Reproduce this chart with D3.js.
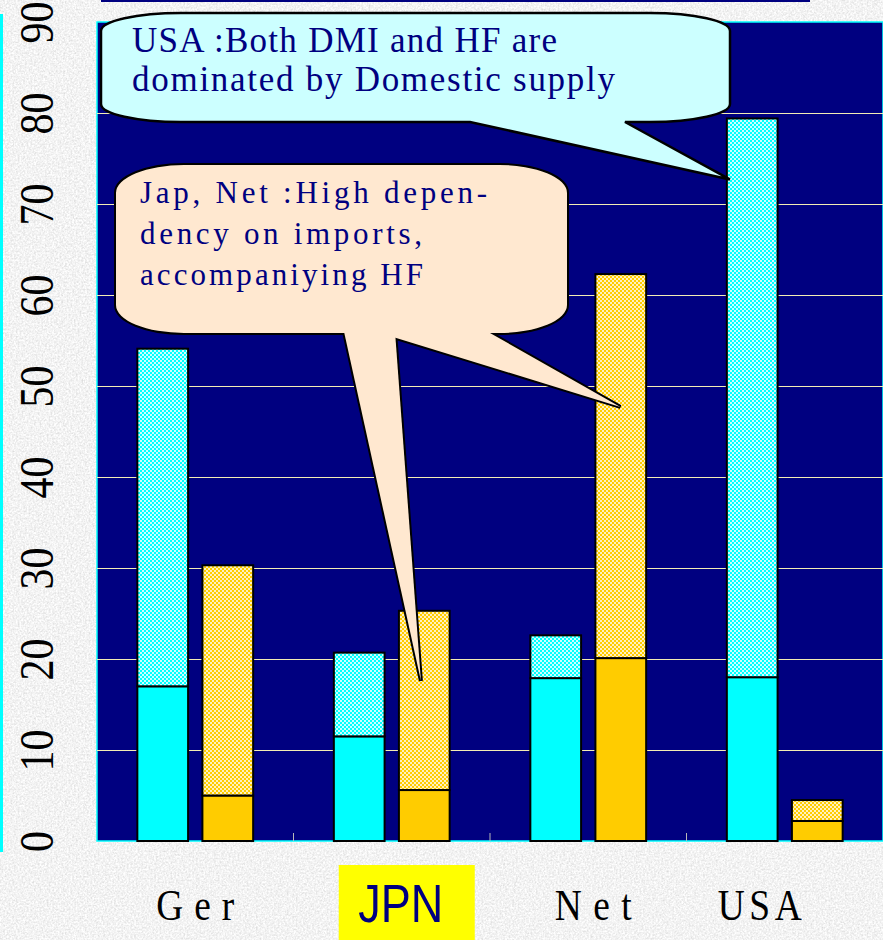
<!DOCTYPE html>
<html>
<head>
<meta charset="utf-8">
<script src="https://cdn.jsdelivr.net/npm/d3@7"></script>
<style>
  body { margin: 0; padding: 0; background: #e4e4e4; }
  svg { display: block; }
</style>
</head>
<body>
<div id="chart"></div>
<script>
// Data
var categories = ["Ger", "JPN", "Net", "USA"];
var dmiDomestic = [17.0, 11.5, 17.9, 18.0];
var dmiImport = [37.1, 9.2, 4.7, 61.4];
var hfDomestic = [5.0, 5.6, 20.1, 2.2];
var hfImport = [25.3, 19.7, 42.2, 2.3];
var yTicks = [0, 10, 20, 30, 40, 50, 60, 70, 80, 90];
var gridTicks = [10, 20, 30, 40, 50, 60, 70, 80];

var noteUSA = ["USA :Both DMI and HF are", "dominated by Domestic supply"];
var noteJapNet = ["Jap, Net :High depen-", "dency on imports,", "accompaniying HF"];

// Placement
var W = 883,
  H = 940,
  pLeft = 97,
  pRight = 883,
  pTop = 22,
  pBottom = 841;

var navy = "#000080";

var svg = d3.select("#chart")
  .append("svg")
  .attr("width", W)
  .attr("height", H);

var defs = svg.append("defs");

// grey speckled backdrop
var noise = defs.append("filter")
  .attr("id", "speckle")
  .attr("x", 0).attr("y", 0).attr("width", "100%").attr("height", "100%");
noise.append("feTurbulence")
  .attr("type", "fractalNoise")
  .attr("baseFrequency", 0.55)
  .attr("numOctaves", 3)
  .attr("seed", 4);
noise.append("feColorMatrix")
  .attr("type", "matrix")
  .attr("values", "0.45 0 0 0 0.67  0.45 0 0 0 0.67  0.45 0 0 0 0.67  0 0 0 0 1");

// checker fills for the import part of the bars
function checker(id, base, dot) {
  var p = defs.append("pattern")
    .attr("id", id)
    .attr("patternUnits", "userSpaceOnUse")
    .attr("width", 4)
    .attr("height", 4);
  p.append("rect").attr("width", 4).attr("height", 4).attr("fill", base);
  p.append("rect").attr("width", 2).attr("height", 2).attr("fill", dot);
  p.append("rect").attr("x", 2).attr("y", 2).attr("width", 2).attr("height", 2).attr("fill", dot);
}
checker("dmiHatch", "#00ffff", "#ccffff");
checker("hfHatch", "#ffcc00", "#fff1c0");

svg.append("rect")
  .attr("width", W)
  .attr("height", H)
  .attr("filter", "url(#speckle)");

// frame bits outside the plot
svg.append("rect")
  .attr("x", 0).attr("y", 14)
  .attr("width", 3).attr("height", 838)
  .attr("fill", "#00ffff");
svg.append("line")
  .attr("x1", 101).attr("x2", 810)
  .attr("y1", 1).attr("y2", 1)
  .attr("stroke", navy)
  .attr("stroke-width", 2);

// Scales
var y = d3.scaleLinear()
  .domain([0, 90])
  .range([pBottom, pTop]);
var x0 = d3.scaleBand()
  .domain(categories)
  .range([pLeft, pRight]);
var x1 = d3.scaleBand()
  .domain(["dmi", "hf"])
  .range([0, x0.bandwidth()])
  .paddingInner(0.22)
  .paddingOuter(0.62);

// plot area
svg.append("rect")
  .attr("x", pLeft)
  .attr("y", pTop)
  .attr("width", pRight - pLeft)
  .attr("height", pBottom - pTop)
  .attr("fill", navy)
  .attr("stroke", "#00ffff")
  .attr("stroke-width", 1.5);

// gridlines
var grid = svg.append("g")
  .attr("transform", "translate(" + pLeft + ",0)")
  .call(d3.axisLeft(y).tickValues(gridTicks).tickSize(-(pRight - pLeft)).tickFormat(""));
grid.select(".domain").remove();
grid.selectAll("line")
  .attr("stroke", "#f3ecb4")
  .attr("stroke-width", 1);

// small category dividers on the base
svg.append("g").selectAll("line")
  .data(categories.slice(1))
  .enter().append("line")
  .attr("x1", function(d) { return x0(d); })
  .attr("x2", function(d) { return x0(d); })
  .attr("y1", pBottom - 8)
  .attr("y2", pBottom)
  .attr("stroke", "#b8b8b8")
  .attr("stroke-width", 1);

// y labels, rotated
var yAxis = svg.append("g")
  .attr("transform", "translate(53,0)")
  .call(d3.axisLeft(y).tickValues(yTicks).tickSize(0).tickPadding(0));
yAxis.select(".domain").remove();
yAxis.selectAll("text")
  .attr("x", 0)
  .attr("dy", 0)
  .attr("text-anchor", "middle")
  .attr("transform", "rotate(-90) scale(1,1.15)")
  .attr("font-family", "Liberation Serif")
  .attr("font-size", 42)
  .attr("fill", "#000");

// BUILD BARS
var rows = categories.map(function(c, i) {
  return { cat: c, dom: dmiDomestic[i], imp: dmiImport[i], hdom: hfDomestic[i], himp: hfImport[i] };
});
var groups = [
  { key: "dmi", stack: d3.stack().keys(["dom", "imp"])(rows), fills: ["#00ffff", "url(#dmiHatch)"] },
  { key: "hf", stack: d3.stack().keys(["hdom", "himp"])(rows), fills: ["#ffcc00", "url(#hfHatch)"] }
];

var bars = svg.append("g");
groups.forEach(function(g) {
  g.stack.forEach(function(layer, li) {
    bars.append("g").selectAll("rect")
      .data(layer)
      .enter().append("rect")
      .attr("x", function(d) { return x0(d.data.cat) + x1(g.key); })
      .attr("y", function(d) { return y(d[1]); })
      .attr("width", x1.bandwidth())
      .attr("height", function(d) { return y(d[0]) - y(d[1]); })
      .attr("fill", g.fills[li])
      .attr("stroke", "#000")
      .attr("stroke-width", 2);
  });
});

// category labels
var labelNudge = [0, 9, 5, -25];
var labelWidth = [78, 85, 77, 84];
var squeeze = 0.85;
var xLab = svg.append("g");
xLab.append("rect")
  .attr("x", x0("JPN") + x0.bandwidth() / 2 - 53)
  .attr("y", 865)
  .attr("width", 136)
  .attr("height", 75)
  .attr("fill", "#ffff00");
xLab.selectAll("text")
  .data(categories)
  .enter().append("text")
  .attr("transform", function(d, i) {
    var cx = x0(d) + x0.bandwidth() / 2 + labelNudge[i];
    return d == "JPN" ? "translate(" + cx + ",922)" : "translate(" + cx + ",920) scale(" + squeeze + ",1)";
  })
  .attr("text-anchor", "middle")
  .attr("font-family", function(d) { return d == "JPN" ? "Liberation Sans" : "Liberation Serif"; })
  .attr("font-size", function(d) { return d == "JPN" ? 54 : 44; })
  .attr("fill", function(d) { return d == "JPN" ? navy : "#000"; })
  .attr("textLength", function(d, i) { return d == "JPN" ? labelWidth[i] : labelWidth[i] / squeeze; })
  .attr("lengthAdjust", function(d) { return d == "JPN" ? "spacingAndGlyphs" : "spacing"; })
  .text(function(d) { return d; });

// CALLOUTS
function boxPath(b, tails) {
  var p = "M" + (b.x0 + b.rx) + "," + b.y0 +
    "L" + (b.x1 - b.rx) + "," + b.y0 +
    "A" + b.rx + "," + b.ry + " 0 0 1 " + b.x1 + "," + (b.y0 + b.ry) +
    "L" + b.x1 + "," + (b.y1 - b.ry) +
    "A" + b.rx + "," + b.ry + " 0 0 1 " + (b.x1 - b.rx) + "," + b.y1;
  tails.forEach(function(t) {
    p += "L" + t.c + "," + b.y1 + "L" + t.tip[0] + "," + t.tip[1] + "L" + t.a + "," + b.y1;
  });
  p += "L" + (b.x0 + b.rx) + "," + b.y1 +
    "A" + b.rx + "," + b.ry + " 0 0 1 " + b.x0 + "," + (b.y1 - b.ry) +
    "L" + b.x0 + "," + (b.y0 + b.ry) +
    "A" + b.rx + "," + b.ry + " 0 0 1 " + (b.x0 + b.rx) + "," + b.y0 + "Z";
  return p;
}

// tip anchors from the bars they point at
function tipAt(cat, key, value, dx) {
  return [x0(cat) + x1(key) + dx, y(value)];
}

var notes = svg.append("g");

// USA note
var usaBox = { x0: 101, y0: 13, x1: 730, y1: 122, rx: 80, ry: 18 };
notes.append("path")
  .attr("d", boxPath(usaBox, [{ a: 470, c: 625, tip: tipAt("USA", "dmi", 72.7, 3) }]))
  .attr("fill", "#ccffff")
  .attr("stroke", "#000")
  .attr("stroke-width", 2.5)
  .attr("stroke-linejoin", "miter");
notes.append("g").selectAll("text")
  .data(noteUSA)
  .enter().append("text")
  .attr("x", 132)
  .attr("y", function(d, i) { return 52 + i * 39; })
  .attr("font-family", "Liberation Serif")
  .attr("font-size", 35)
  .attr("fill", navy)
  .attr("textLength", function(d, i) { return [425, 483][i]; })
  .attr("lengthAdjust", "spacing")
  .text(function(d) { return d; });

// Jap / Net note: box with two tails, drawn as a union
var jnBox = { x0: 116, y0: 165, x1: 567, y1: 333, rx: 68, ry: 28 };
var jnMain = boxPath(jnBox, [{ a: 380, c: 490, tip: tipAt("Net", "hf", 47.7, 25) }]);
var jpTip = tipAt("JPN", "hf", 17.6, 22);
var jnTail = "M341,318L" + jpTip[0] + "," + jpTip[1] + "L394,318Z";
[jnMain, jnTail].forEach(function(d) {
  notes.append("path")
    .attr("d", d)
    .attr("fill", "#ffe8d0")
    .attr("stroke", "#000")
    .attr("stroke-width", 4);
});
[jnMain, jnTail].forEach(function(d) {
  notes.append("path")
    .attr("d", d)
    .attr("fill", "#ffe8d0");
});
notes.append("g").selectAll("text")
  .data(noteJapNet)
  .enter().append("text")
  .attr("x", 140)
  .attr("y", function(d, i) { return 203 + i * 41; })
  .attr("font-family", "Liberation Serif")
  .attr("font-size", 31)
  .attr("fill", navy)
  .attr("textLength", function(d, i) { return [347, 282, 283][i]; })
  .attr("lengthAdjust", "spacing")
  .text(function(d) { return d; });
</script>
</body>
</html>
